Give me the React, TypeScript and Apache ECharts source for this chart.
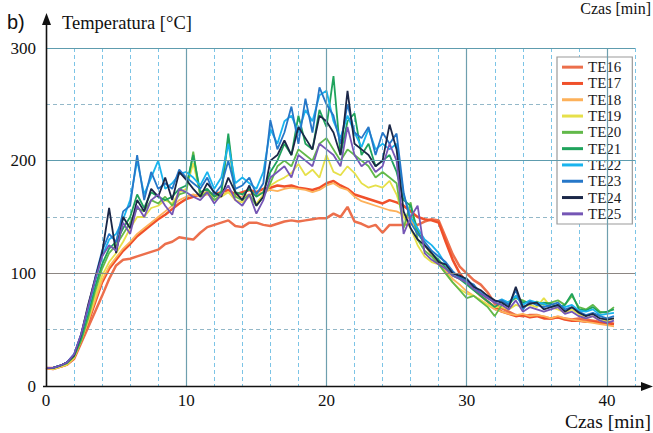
import React, { useEffect, useRef } from 'react';
import * as echarts from 'echarts';

const TIME = [
  0, 0.5, 1, 1.5, 2, 2.5, 3, 3.5, 4, 4.5,
  5, 5.5, 6, 6.5, 7, 7.5, 8, 8.5, 9, 9.5,
  10, 10.5, 11, 11.5, 12, 12.5, 13, 13.5, 14, 14.5,
  15, 15.5, 16, 16.5, 17, 17.5, 18, 18.5, 19, 19.5,
  20, 20.5, 21, 21.5, 22, 22.5, 23, 23.5, 24, 24.5,
  25, 25.5, 26, 26.5, 27, 27.5, 28, 28.5, 29, 29.5,
  30, 30.5, 31, 31.5, 32, 32.5, 33, 33.5, 34, 34.5,
  35, 35.5, 36, 36.5, 37, 37.5, 38, 38.5, 39, 39.5,
  40, 40.5,
];

const TE16 = [
  16, 16, 17, 19, 24, 38, 52, 66, 80, 95,
  107, 112, 113, 115, 117, 119, 121, 126, 128, 132,
  131, 130, 136, 141, 143, 145, 147, 142, 141, 145,
  145, 143, 142, 144, 146, 147, 146, 147, 148, 149,
  149, 153, 150, 159, 146, 144, 141, 143, 136, 143,
  143, 143, 144, 143, 146, 148, 147, 132, 117, 106,
  100, 94, 90, 83, 73, 69, 66, 63, 62, 63,
  63, 61, 60, 61, 60, 59, 60, 59, 58, 57,
  57, 55,
];
const TE17 = [
  16, 15, 17, 19, 25, 40, 56, 74, 92, 104,
  112, 120, 126, 133, 138, 143, 148, 152, 157, 162,
  166, 168, 170, 172, 170, 172, 174, 170, 172, 174,
  172, 175, 176, 178, 177, 178, 176, 175, 174, 176,
  180, 182, 178, 175, 170, 168, 166, 164, 162, 165,
  163, 160, 155, 150, 148, 147, 145, 128, 112, 100,
  92, 86, 80, 75, 70, 66, 64, 62, 63, 61,
  62, 60, 60, 61, 59, 58, 58, 57, 57, 56,
  55, 55,
];
const TE18 = [
  16, 15, 17, 19, 25, 40, 57, 76, 94, 106,
  114, 122, 128, 135, 140, 145, 150, 155, 160, 165,
  168, 170, 168, 170, 168, 170, 172, 168, 168, 170,
  170, 172, 174, 173, 175, 176, 175, 174, 172, 174,
  178, 180, 176, 174, 168, 164, 162, 160, 158, 156,
  155, 152, 148, 138, 125, 116, 110, 102, 95, 90,
  84, 80, 76, 72, 68, 66, 64, 63, 64, 62,
  63, 62, 60, 62, 60, 59, 58, 57, 56, 55,
  54, 53,
];
const TE19 = [
  16, 15, 17, 19, 25, 40, 58, 80, 98, 110,
  118, 128, 140, 150, 150, 158, 160, 165, 162, 172,
  175, 198, 170, 172, 165, 168, 172, 165, 163, 168,
  162, 170, 178, 182, 185, 189, 197, 187, 192, 185,
  205, 190, 187, 195, 189, 180, 176, 178, 176, 182,
  170, 150, 140, 125, 115, 110, 108, 100, 92, 86,
  82, 80, 76, 72, 70, 70, 68, 72, 70, 72,
  70, 78, 70, 68, 65, 68, 64, 60, 62, 58,
  58, 60,
];
const TE20 = [
  16, 16, 18, 20, 26, 40, 60, 84, 104, 118,
  125, 135, 145, 158, 155, 165, 162, 168, 160, 170,
  172, 208, 168, 172, 165, 170, 220, 168, 165, 170,
  160, 168, 180, 195, 200, 195, 210, 205, 200, 215,
  220, 210, 200, 210, 205, 200, 195, 185, 190, 185,
  180, 140, 163, 130, 120, 115, 108, 100, 92, 85,
  78, 80, 75, 70, 62, 72, 75, 78, 76, 73,
  75, 72, 74, 76, 72, 80, 70, 68, 72, 66,
  65, 70,
];
const TE21 = [
  16, 16, 18, 21, 27, 42, 64, 88, 108, 122,
  128, 140, 150, 170, 158, 172, 168, 165, 168, 175,
  178, 205, 172, 175, 168, 172, 224, 172, 170, 175,
  168, 172, 190, 200, 215, 205, 240, 215, 210, 245,
  230, 275, 205, 235, 242, 205, 215, 195, 200, 205,
  190, 165, 160, 138, 125, 118, 112, 105, 98, 95,
  90, 85, 80, 75, 70, 75, 72, 80, 74, 75,
  72, 74, 73, 70, 72, 82, 68, 67, 70, 65,
  66, 68,
];
const TE22 = [
  16, 16, 18, 21, 28, 45, 68, 93, 115, 130,
  135, 148, 165, 200, 170, 185, 200, 175, 180, 188,
  190, 185, 178, 190, 175, 185, 215, 180, 185, 180,
  175, 190, 228, 215, 235, 240, 225, 245, 235, 258,
  262, 235, 220, 240, 225, 212, 228, 210, 215, 210,
  215, 170, 150, 140, 130, 125, 118, 108, 100, 97,
  95, 88, 83, 80, 74, 77, 74, 80, 72, 76,
  74, 73, 70, 72, 70, 72, 67, 66, 68, 63,
  64, 65,
];
const TE23 = [
  16, 16, 18, 21, 28, 46, 70, 96, 120, 135,
  128, 155, 160, 205, 165, 190, 175, 180, 175, 192,
  185, 180, 175, 185, 170, 178, 200, 175, 178, 185,
  170, 180, 236, 210, 225, 248, 215, 255, 225, 265,
  250, 240, 215, 250, 225, 220, 230, 205, 225, 215,
  224, 172, 145, 135, 128, 120, 115, 110, 102, 96,
  93, 90, 82, 78, 75, 76, 72, 85, 68, 75,
  72, 70, 72, 74, 68, 70, 66, 63, 65, 62,
  60, 62,
];
const TE24 = [
  16, 16, 18, 21, 27, 45, 72, 95, 118, 158,
  118, 150, 140, 165, 155, 175, 168, 185, 165, 190,
  183, 175, 168, 180, 172, 168, 185, 172, 165, 178,
  160, 168, 200, 205, 218, 205, 230, 220, 210, 240,
  235, 225, 205, 262, 215, 210, 205, 195, 200, 232,
  210, 155, 140, 130, 125, 118, 110, 108, 100, 98,
  95, 88, 85, 80, 76, 74, 70, 88, 70, 73,
  74, 68, 70, 72, 66, 70, 65, 62, 64, 60,
  59, 60,
];
const TE25 = [
  16, 16, 18, 21, 28, 46, 70, 94, 115, 125,
  120, 145, 135, 160, 150, 165, 170, 160, 152, 175,
  172, 168, 165, 172, 162, 170, 178, 165, 160, 170,
  153, 165, 185, 190, 195, 185, 205, 200, 195, 215,
  210, 205, 195, 230, 205, 195, 200, 190, 195, 215,
  200, 135, 150, 160, 118, 112, 108, 104, 98, 95,
  92, 86, 82, 78, 74, 72, 68, 76, 66, 70,
  68, 66, 68, 70, 64, 66, 62, 60, 62, 58,
  56, 58,
];

const SERIES_NAMES = ['TE16', 'TE17', 'TE18', 'TE19', 'TE20', 'TE21', 'TE22', 'TE23', 'TE24', 'TE25'];
const SERIES_VALUES = [TE16, TE17, TE18, TE19, TE20, TE21, TE22, TE23, TE24, TE25];
const SERIES_COLORS = ['#ec6f4c', '#f0502a', '#fdb15a', '#e6e04a', '#62b94a', '#1fa35c', '#19b4ee', '#2677c8', '#1b2748', '#7556b5'];

const X_MAJOR = [10, 20, 30, 40];
const Y_MAJOR = [100, 200, 300];

const SERIF = 'Liberation Serif';
const SANS = 'Liberation Sans';

export default function App() {
  const ref = useRef<HTMLDivElement>(null);

  useEffect(() => {
    const chart = echarts.init(ref.current as HTMLDivElement, null, { renderer: 'svg' });

    const lineSeries: any[] = SERIES_NAMES.map((name, i) => ({
      name,
      type: 'line',
      showSymbol: false,
      symbol: 'none',
      z: 3,
      emphasis: { disabled: true },
      data: TIME.map((t, k) => [t, SERIES_VALUES[i][k]]),
      lineStyle: { color: SERIES_COLORS[i], width: i < 2 ? 2.5 : 1.8 },
      itemStyle: { color: SERIES_COLORS[i] },
    }));

    const gridSeries = {
      name: 'majorGrid',
      type: 'line',
      data: [[0, 0]],
      showSymbol: false,
      symbol: 'none',
      lineStyle: { width: 0, opacity: 0 },
      z: 1,
      silent: true,
      markLine: {
        silent: true,
        symbol: ['none', 'none'],
        label: { show: false },
        animation: false,
        data: [
          ...X_MAJOR.map((v) => ({ xAxis: v, lineStyle: { color: '#6e9fae', width: 1.2, type: 'solid' } })),
          ...Y_MAJOR.map((v) => ({
            yAxis: v,
            lineStyle: { color: v === 100 ? '#8c8682' : '#5e9cae', width: 1.2, type: 'solid' },
          })),
        ],
      },
    };

    chart.setOption({
      animation: false,
      backgroundColor: '#ffffff',
      textStyle: { fontFamily: SERIF },
      grid: { left: 46, top: 48, right: 18, bottom: 47, containLabel: false },
      legend: {
        data: SERIES_NAMES,
        orient: 'vertical',
        left: 557,
        top: 57,
        padding: [2, 11, 2, 5],
        itemGap: 0,
        itemWidth: 21,
        itemHeight: 3,
        icon: 'rect',
        backgroundColor: '#ffffff',
        borderColor: '#9a9a9a',
        borderWidth: 1.2,
        selectedMode: false,
        textStyle: { fontFamily: SERIF, fontSize: 15, lineHeight: 16.3, color: '#1a1a1a' },
      },
      xAxis: {
        type: 'value',
        min: 0,
        max: 42,
        interval: 2,
        axisLine: { show: false },
        axisTick: { show: false },
        axisLabel: {
          fontFamily: SERIF,
          fontSize: 17,
          color: '#111',
          margin: 6,
          formatter: (v: number) => (v % 10 === 0 && v <= 40 ? String(v) : ''),
        },
        splitLine: { show: true, lineStyle: { color: '#7cc4e6', width: 1, type: [4, 3] } },
      },
      yAxis: {
        type: 'value',
        min: 0,
        max: 300,
        interval: 50,
        axisLine: { show: false },
        axisTick: { show: false },
        axisLabel: {
          fontFamily: SERIF,
          fontSize: 17,
          color: '#111',
          margin: 10,
          formatter: (v: number) => (v % 100 === 0 ? String(v) : ''),
        },
        splitLine: { show: true, lineStyle: { color: '#94b8c8', width: 1, type: [4, 3] } },
      },
      graphic: [
        { type: 'line', z: 100, shape: { x1: 46.5, y1: 387, x2: 46.5, y2: 22 }, style: { stroke: '#111', lineWidth: 1.6 } },
        { type: 'polygon', z: 100, shape: { points: [[46.5, 13], [42, 25], [51, 25]] }, style: { fill: '#111' } },
        { type: 'line', z: 100, shape: { x1: 43, y1: 386.5, x2: 645, y2: 386.5 }, style: { stroke: '#111', lineWidth: 1.6 } },
        { type: 'polygon', z: 100, shape: { points: [[653, 386.5], [641, 382], [641, 391]] }, style: { fill: '#111' } },
        {
          type: 'text', z: 100, x: 7, y: 21.5,
          style: { text: 'b)', fontFamily: SANS, fontSize: 20, fill: '#111', align: 'left', verticalAlign: 'middle' },
        },
        {
          type: 'text', z: 100, x: 62, y: 22.5,
          style: { text: 'Temperatura [°C]', fontFamily: SERIF, fontSize: 18.5, fill: '#111', align: 'left', verticalAlign: 'middle' },
        },
        {
          type: 'text', z: 100, x: 651, y: 421,
          style: { text: 'Czas [min]', fontFamily: SERIF, fontSize: 19.5, fill: '#111', align: 'right', verticalAlign: 'middle' },
        },
        {
          type: 'text', z: 100, x: 651, y: 8,
          style: { text: 'Czas [min]', fontFamily: SERIF, fontSize: 16, fill: '#111', align: 'right', verticalAlign: 'middle' },
        },
      ],
      series: [gridSeries, ...lineSeries],
    });

    return () => chart.dispose();
  }, []);

  return (
    <div
      ref={ref}
      style={{ position: 'fixed', left: 0, top: 0, width: 653, height: 433, background: '#fff' }}
    />
  );
}
